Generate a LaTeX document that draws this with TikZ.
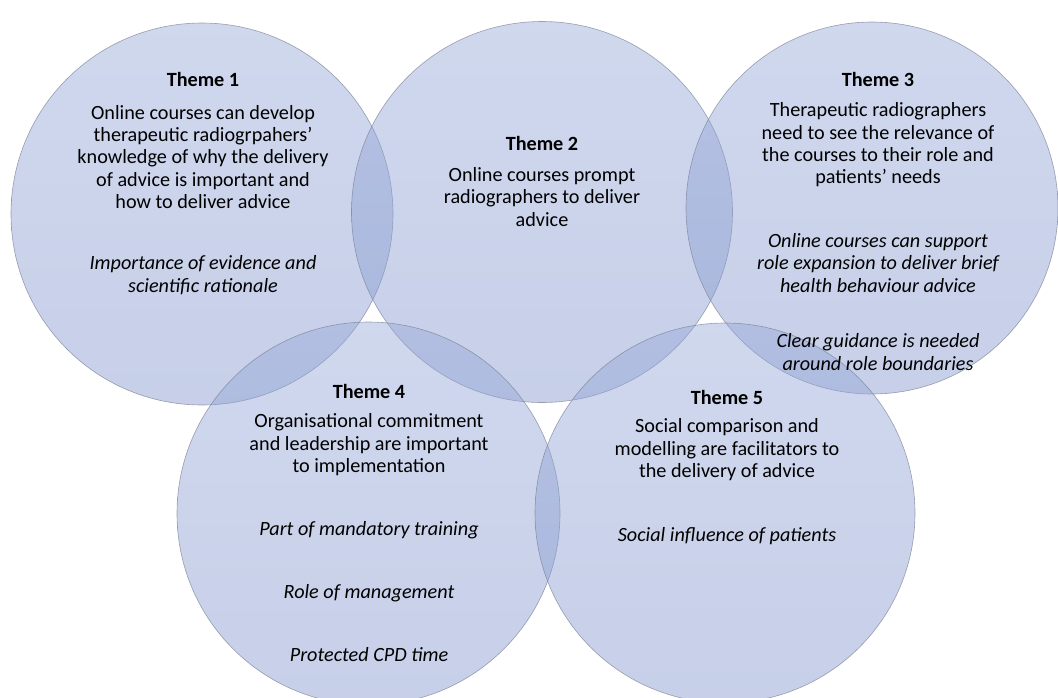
\documentclass[tikz,border=0pt]{standalone}
\usepackage{fontspec}
\setmainfont{Carlito}
\usepackage{tikz}

\definecolor{themetop}{RGB}{150,168,216}
\definecolor{themebot}{RGB}{130,150,205}
\definecolor{themeline}{RGB}{120,126,146}

\begin{document}
\begin{tikzpicture}[x=1pt, y=-1pt,
    theme/.style={circle, inner sep=0pt, draw=themeline, line width=0.6pt, draw opacity=0.7,
                  top color=themetop, bottom color=themebot, fill opacity=0.45},
    head/.style={font=\fontsize{20.2}{22.4}\selectfont\bfseries, inner sep=0pt},
    body/.style={align=center, font=\fontsize{20.2}{22.4}\selectfont, inner sep=0pt},
    sub/.style={align=center, font=\fontsize{20.2}{22.4}\selectfont\itshape, inner sep=0pt}]
    \useasboundingbox (0,0) rectangle (1058,697);

    % the five themes
    \node[theme, minimum size=382pt] (c1) at (202,214) {};
    \node[theme, minimum size=381pt] (c2) at (542,212) {};
    \node[theme, minimum size=372pt] (c3) at (872,208) {};
    \node[theme, minimum size=383pt] (c4) at (368.5,513.5) {};
    \node[theme, minimum size=380pt] (c5) at (725,513) {};

    % theme 1
    \node[head] (h1) at (203,79) {Theme 1};
    \node[body] (b1) at (203,157) {Online courses can develop\\therapeutic radiogrpahers’\\knowledge of why the delivery\\of advice is important and\\how to deliver advice};
    \node[sub] (s1) at (203,275) {Importance of evidence and\\scientific rationale};

    % theme 2
    \node[head] (h2) at (542,143) {Theme 2};
    \node[body] (b2) at (542,197) {Online courses prompt\\radiographers to deliver\\advice};

    % theme 3
    \node[head] (h3) at (878,79) {Theme 3};
    \node[body] (b3) at (878,145) {Therapeutic radiographers\\need to see the relevance of\\the courses to their role and\\patients’ needs};
    \node[sub] (s3a) at (878,263) {Online courses can support\\role expansion to deliver brief\\health behaviour advice};
    \node[sub] (s3b) at (878,352) {Clear guidance is needed\\around role boundaries};

    % theme 4
    \node[head] (h4) at (369,391) {Theme 4};
    \node[body] (b4) at (369,445) {Organisational commitment\\and leadership are important\\to implementation};
    \node[sub] (s4a) at (369,530) {Part of mandatory training};
    \node[sub] (s4b) at (369,593) {Role of management};
    \node[sub] (s4c) at (369,655) {Protected CPD time};

    % theme 5
    \node[head] (h5) at (727,397) {Theme 5};
    \node[body] (b5) at (727,450) {Social comparison and\\modelling are facilitators to\\the delivery of advice};
    \node[sub] (s5) at (727,536) {Social influence of patients};
\end{tikzpicture}
\end{document}
